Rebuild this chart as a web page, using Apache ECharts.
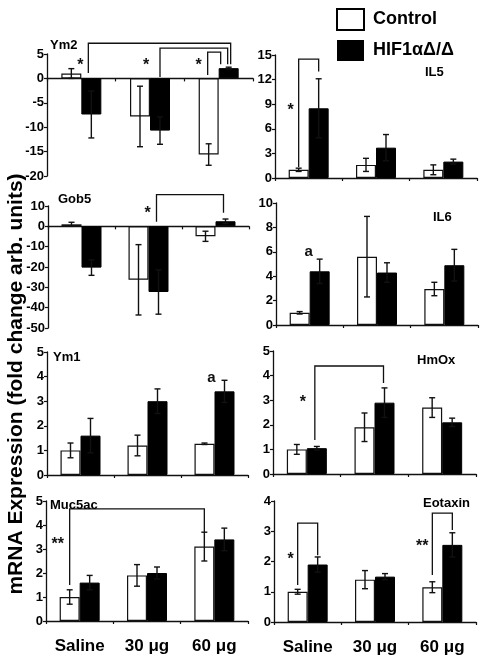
<!DOCTYPE html>
<html><head><meta charset="utf-8">
<script src="https://cdn.jsdelivr.net/npm/echarts@6/dist/echarts.min.js"></script>
<style>html,body{margin:0;padding:0;background:#fff}#c{width:480px;height:658px}</style>
</head><body><div id="c"></div>
<script>
const categories = ['Saline', '30 μg', '60 μg'];
const seriesNames = ['Control', 'HIF1αΔ/Δ'];

// Ym2
const ym2Control = [1.0, -7.8, -15.6];
const ym2ControlErr = [1.0, 6.2, 2.2];
const ym2Hif = [-7.4, -10.7, 2.1];
const ym2HifErr = [4.8, 2.8, 0.2];
// IL5
const il5Control = [1.0, 1.6, 1.0];
const il5ControlErr = [0.2, 0.8, 0.6];
const il5Hif = [8.5, 3.7, 2.0];
const il5HifErr = [3.6, 1.6, 0.3];
// Gob5
const gob5Control = [1.0, -26.3, -4.9];
const gob5ControlErr = [1.0, 17.3, 2.5];
const gob5Hif = [-20.3, -32.3, 2.5];
const gob5HifErr = [3.8, 10.9, 1.1];
// IL6
const il6Control = [1.0, 5.6, 2.95];
const il6ControlErr = [0.1, 3.3, 0.55];
const il6Hif = [4.4, 4.3, 4.9];
const il6HifErr = [1.0, 0.8, 1.3];
// Ym1
const ym1Control = [1.0, 1.2, 1.27];
const ym1ControlErr = [0.3, 0.42, 0.03];
const ym1Hif = [1.6, 3.0, 3.4];
const ym1HifErr = [0.7, 0.5, 0.45];
// HmOx
const hmoxControl = [1.0, 1.9, 2.7];
const hmoxControlErr = [0.2, 0.58, 0.4];
const hmoxHif = [1.05, 2.9, 2.1];
const hmoxHifErr = [0.07, 0.6, 0.17];
// Muc5ac
const muc5acControl = [1.0, 1.9, 3.1];
const muc5acControlErr = [0.3, 0.45, 0.6];
const muc5acHif = [1.6, 2.0, 3.4];
const muc5acHifErr = [0.3, 0.25, 0.47];
// Eotaxin
const eotaxinControl = [1.0, 1.4, 1.15];
const eotaxinControlErr = [0.08, 0.3, 0.18];
const eotaxinHif = [1.9, 1.5, 2.55];
const eotaxinHifErr = [0.25, 0.1, 0.4];

// significance brackets: [cat1, dx1, yLeg1, yTop, cat2, dx2, yLeg2]
const ym2Brackets = [[0, 7, 1.1, 7.2, 2, 12, 2.9], [1, 10, 0.3, 6.2, 2, 9, 2.9], [2, -11, 0.7, 5.4, 2, 2, 2.9]];
const ym2Marks = [[0, -1, 3.35, '*'], [1, -4, 3.35, '*'], [2, -20, 3.35, '*']];
const il5Brackets = [[0, -10, 1.34, 14.5, 0, 10, 13.0]];
const il5Marks = [[0, -18, 8.66, '*']];
const gob5Brackets = [[1, 8, 2.3, 15.6, 2, 8, 6.7]];
const gob5Marks = [[1, -1, 8.2, '*']];
const il6Brackets = [];
const il6Marks = [[0, -1, 6.0, 'a']];
const ym1Brackets = [];
const ym1Marks = [[2, -3, 3.95, 'a']];
const hmoxBrackets = [[0, 8, 1.38, 4.39, 1, 9, 3.7]];
const hmoxMarks = [[0, -4, 3.05, '*']];
const muc5acBrackets = [[0, -10, 1.5, 4.67, 2, -10, 3.67]];
const muc5acMarks = [[0, -22, 3.33, '**']];
const eotaxinBrackets = [[0, -10, 1.22, 3.27, 0, 10, 2.21], [2, -10, 1.55, 3.6, 2, 10, 3.04]];
const eotaxinMarks = [[0, -17, 2.2, '*'], [2, -20, 2.64, '**']];

const panels = [
  {title: 'Ym2', tpos: [50, 45], grid: [47, 54, 206, 122], min: -20, max: 5, interval: 5, c: ym2Control, ce: ym2ControlErr, h: ym2Hif, he: ym2HifErr, br: ym2Brackets, mk: ym2Marks, labels: false},
  {title: 'IL5', tpos: [425, 72], grid: [275, 55, 202, 123], min: 0, max: 15, interval: 3, c: il5Control, ce: il5ControlErr, h: il5Hif, he: il5HifErr, br: il5Brackets, mk: il5Marks, labels: false},
  {title: 'Gob5', tpos: [58, 199], grid: [48, 206, 201, 122], min: -50, max: 10, interval: 10, c: gob5Control, ce: gob5ControlErr, h: gob5Hif, he: gob5HifErr, br: gob5Brackets, mk: gob5Marks, labels: false},
  {title: 'IL6', tpos: [433, 217], grid: [276, 203, 202, 122], min: 0, max: 10, interval: 2, c: il6Control, ce: il6ControlErr, h: il6Hif, he: il6HifErr, br: il6Brackets, mk: il6Marks, labels: false},
  {title: 'Ym1', tpos: [53, 357], grid: [47, 352, 201, 123], min: 0, max: 5, interval: 1, c: ym1Control, ce: ym1ControlErr, h: ym1Hif, he: ym1HifErr, br: ym1Brackets, mk: ym1Marks, labels: false},
  {title: 'HmOx', tpos: [417, 360], grid: [273, 351, 203, 123], min: 0, max: 5, interval: 1, c: hmoxControl, ce: hmoxControlErr, h: hmoxHif, he: hmoxHifErr, br: hmoxBrackets, mk: hmoxMarks, labels: false},
  {title: 'Muc5ac', tpos: [50, 505], grid: [46, 501, 202, 120], min: 0, max: 5, interval: 1, c: muc5acControl, ce: muc5acControlErr, h: muc5acHif, he: muc5acHifErr, br: muc5acBrackets, mk: muc5acMarks, labels: true},
  {title: 'Eotaxin', tpos: [423, 503], grid: [274, 501, 202, 121], min: 0, max: 4, interval: 1, c: eotaxinControl, ce: eotaxinControlErr, h: eotaxinHif, he: eotaxinHifErr, br: eotaxinBrackets, mk: eotaxinMarks, labels: true}
];

const FONT = 'Liberation Sans, Arial, sans-serif';
const INK = '#111';
const BARW = 20;

const grids = [], xAxes = [], yAxes = [], series = [], graphics = [];

function errSeries(gi, vals, errs, side) {
  return {
    type: 'custom', xAxisIndex: gi, yAxisIndex: gi, z: 6, silent: true, clip: false,
    encode: {x: 0, y: 1},
    data: vals.map((v, i) => [i, v, errs[i]]),
    renderItem: (params, api) => {
      const c = api.value(0), v = api.value(1), e = api.value(2);
      const t = api.coord([c, v + e]);
      const b = api.coord([c, v - e]);
      const x = t[0] + side * BARW / 2;
      const st = {stroke: INK, lineWidth: 1.4};
      return {type: 'group', children: [
        {type: 'line', shape: {x1: x, y1: t[1], x2: x, y2: b[1]}, style: st},
        {type: 'line', shape: {x1: x - 3, y1: t[1], x2: x + 3, y2: t[1]}, style: st},
        {type: 'line', shape: {x1: x - 3, y1: b[1], x2: x + 3, y2: b[1]}, style: st}
      ]};
    }
  };
}

function bracketSeries(gi, list) {
  return {
    type: 'custom', xAxisIndex: gi, yAxisIndex: gi, z: 7, silent: true, clip: false,
    encode: {x: 0, y: 1},
    data: list.map(b => [b[0], b[3]]),
    renderItem: (params, api) => {
      const b = list[params.dataIndex];
      const pL = api.coord([b[0], b[2]]);
      const tL = api.coord([b[0], b[3]]);
      const pR = api.coord([b[4], b[6]]);
      const x1 = pL[0] + b[1], x2 = pR[0] + b[5];
      return {type: 'polyline', shape: {points: [[x1, pL[1]], [x1, tL[1]], [x2, tL[1]], [x2, pR[1]]]},
        style: {stroke: INK, lineWidth: 1.3, fill: null}};
    }
  };
}

function markSeries(gi, list) {
  return {
    type: 'custom', xAxisIndex: gi, yAxisIndex: gi, z: 7, silent: true, clip: false,
    encode: {x: 0, y: 1},
    data: list.map(m => [m[0], m[2]]),
    renderItem: (params, api) => {
      const m = list[params.dataIndex];
      const p = api.coord([m[0], m[2]]);
      const isStar = m[3].indexOf('*') >= 0;
      return {type: 'text', x: p[0] + m[1], y: p[1] + (isStar ? 4 : 0),
        style: {text: m[3], fill: INK, font: 'bold ' + (isStar ? 16 : 15) + 'px ' + FONT, align: 'center', verticalAlign: 'middle'}};
    }
  };
}

panels.forEach((p, gi) => {
  grids.push({left: p.grid[0], top: p.grid[1], width: p.grid[2], height: p.grid[3], containLabel: false});
  xAxes.push({
    type: 'category', gridIndex: gi, data: categories,
    axisLine: {onZero: true, lineStyle: {color: INK, width: 1.3}},
    axisTick: {show: true, length: 3, alignWithLabel: false, lineStyle: {color: INK, width: 1.2}},
    axisLabel: {show: p.labels, color: '#000', fontWeight: 'bold', fontSize: 17, fontFamily: FONT, margin: 17},
    splitLine: {show: false}
  });
  yAxes.push({
    type: 'value', gridIndex: gi, min: p.min, max: p.max, interval: p.interval,
    axisLine: {show: true, lineStyle: {color: INK, width: 1.3}},
    axisTick: {show: true, length: 3, lineStyle: {color: INK, width: 1.2}},
    axisLabel: {color: '#000', fontWeight: 'bold', fontSize: 13, fontFamily: FONT, margin: 3},
    splitLine: {show: false}
  });
  series.push({
    name: seriesNames[0], type: 'bar', xAxisIndex: gi, yAxisIndex: gi, data: p.c,
    barWidth: BARW, barGap: '0%', silent: true,
    itemStyle: {color: '#fff', borderColor: INK, borderWidth: 1.2}
  });
  series.push({
    name: seriesNames[1], type: 'bar', xAxisIndex: gi, yAxisIndex: gi, data: p.h,
    barWidth: BARW, barGap: '0%', silent: true,
    itemStyle: {color: '#000', borderColor: '#000', borderWidth: 1}
  });
  series.push(errSeries(gi, p.c, p.ce, -1));
  series.push(errSeries(gi, p.h, p.he, 1));
  if (p.br.length) series.push(bracketSeries(gi, p.br));
  if (p.mk.length) series.push(markSeries(gi, p.mk));
  graphics.push({type: 'text', x: p.tpos[0], y: p.tpos[1], z: 10,
    style: {text: p.title, fill: '#000', font: 'bold 13px ' + FONT, align: 'left', verticalAlign: 'middle'}});
});

graphics.push({type: 'text', x: 16, y: 384, rotation: Math.PI / 2, z: 10,
  style: {text: 'mRNA Expression (fold change arb. units)', fill: '#000', font: 'bold 21px ' + FONT, align: 'center', verticalAlign: 'middle'}});

const chart = echarts.init(document.getElementById('c'), null, {renderer: 'canvas'});
chart.setOption({
  animation: false,
  backgroundColor: '#fff',
  grid: grids, xAxis: xAxes, yAxis: yAxes, series: series, graphic: graphics,
  legend: {
    orient: 'vertical', left: 331, top: 3, itemWidth: 27, itemHeight: 21, itemGap: 9,
    selectedMode: false, icon: 'rect',
    textStyle: {color: '#000', fontWeight: 'bold', fontSize: 18, fontFamily: FONT, padding: [0, 0, 0, 4]},
    data: [
      {name: seriesNames[0], itemStyle: {color: '#fff', borderColor: '#000', borderWidth: 2}},
      {name: seriesNames[1], itemStyle: {color: '#000', borderColor: '#000', borderWidth: 0}}
    ]
  }
});
</script></body></html>
